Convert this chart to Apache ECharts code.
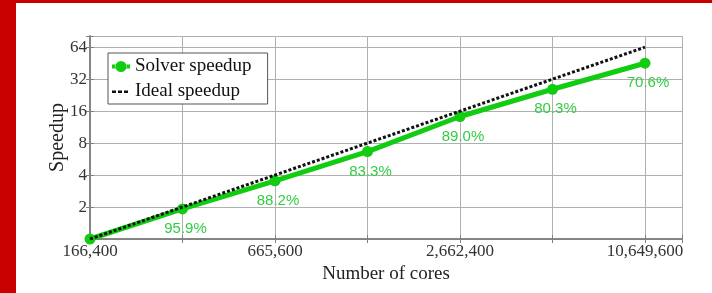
<!DOCTYPE html>
<html>
<head>
<meta charset="utf-8">
<script src="https://cdn.jsdelivr.net/npm/echarts@6/dist/echarts.min.js"></script>
<style>
html,body{margin:0;padding:0;background:#fff;}
#chart{position:absolute;left:0;top:0;width:712px;height:293px;}
#redTop{position:absolute;left:0;top:0;width:712px;height:3px;background:#c80000;z-index:5;}
#redLeft{position:absolute;left:0;top:0;width:16px;height:293px;background:#c80000;z-index:5;}
</style>
</head>
<body>
<div id="chart"></div>
<div id="redTop"></div>
<div id="redLeft"></div>
<script>
// ---- data ----
var cores = [166400, 332800, 665600, 1331200, 2662400, 5324800, 10649600];
var solverSpeedup = [1, 1.92, 3.53, 6.66, 14.24, 25.7, 45.2];
var idealSpeedup = [1, 2, 4, 8, 16, 32, 64];
var efficiencyLabels = ['', '95.9%', '88.2%', '83.3%', '89.0%', '80.3%', '70.6%'];
var xTickLabels = ['166,400', '', '665,600', '', '2,662,400', '', '10,649,600'];
var yTickLabels = ['', '2', '4', '8', '16', '32', '64'];
var seriesNames = ['Solver speedup', 'Ideal speedup'];
var xAxisTitle = 'Number of cores';
var yAxisTitle = 'Speedup';

// ---- build ----
function lx(c){ return Math.log2(c / cores[0]); }
function ly(s){ return Math.log2(s); }
function isInt(v){ return Math.abs(v - Math.round(v)) < 1e-6; }

var solverData = cores.map(function(c, i){ return [lx(c), ly(solverSpeedup[i])]; });
var idealData = cores.map(function(c, i){ return [lx(c), ly(idealSpeedup[i])]; });

var serif = '"Liberation Serif", "DejaVu Serif", serif';
var gridColor = '#b0b0b0';
var axisColor = '#808080';
var green = '#11cc11';

function xAxisCfg(pos, showLabel){
  return {
    type: 'value', position: pos, min: 0, max: 6.4, interval: 1,
    axisLine: {show: true, lineStyle: {color: axisColor, width: 1.5}},
    axisTick: {show: true, inside: true, length: 4, lineStyle: {color: axisColor}},
    splitLine: {show: pos === 'bottom', lineStyle: {color: gridColor, width: 1}},
    axisLabel: {
      show: showLabel, margin: 4, color: '#333', fontFamily: serif, fontSize: 17,
      formatter: function(v){ return isInt(v) ? (xTickLabels[Math.round(v)] || '') : ''; }
    },
    name: showLabel ? xAxisTitle : '', nameLocation: 'middle', nameGap: 20,
    nameTextStyle: {color: '#222', fontFamily: serif, fontSize: 19}
  };
}
function yAxisCfg(pos, showLabel){
  return {
    type: 'value', position: pos, min: 0, max: 6.35, interval: 1,
    axisLine: {show: true, lineStyle: {color: axisColor, width: 1.5}},
    axisTick: {show: true, inside: true, length: 4, lineStyle: {color: axisColor}},
    splitLine: {show: pos === 'left', lineStyle: {color: gridColor, width: 1}},
    axisLabel: {
      show: showLabel, margin: 3, color: '#333', fontFamily: serif, fontSize: 17,
      formatter: function(v){ return isInt(v) ? (yTickLabels[Math.round(v)] || '') : ''; }
    }
  };
}

var solverIcon = 'path://M0,3.5h4v4h-4z M14,3.5h4v4h-4z M3.5,5.5a5.5,5.5 0 1,0 11,0a5.5,5.5 0 1,0 -11,0z';
var idealIcon = 'path://M0,4.5h4v2.5h-4z M6,4.5h4v2.5h-4z M12,4.5h4v2.5h-4z M17.9,0h0.1v0.1h-0.1z M17.9,10.9h0.1v0.1h-0.1z';

var chart = echarts.init(document.getElementById('chart'), null, {renderer: 'canvas'});
chart.setOption({
  animation: false,
  backgroundColor: '#fff',
  grid: {left: 90, top: 36, right: 30, bottom: 54, show: false},
  xAxis: [xAxisCfg('bottom', true), xAxisCfg('top', false)],
  yAxis: [yAxisCfg('left', true), yAxisCfg('right', false)],
  graphic: [{
    type: 'text', x: 58, y: 137.5, rotation: Math.PI / 2,
    style: {
      text: yAxisTitle, fill: '#222', font: '20px "Liberation Serif", serif',
      align: 'center', verticalAlign: 'middle'
    }
  }],
  legend: {
    orient: 'vertical', left: 108, top: 53,
    padding: [4, 16, 3, 4], itemGap: 6, itemWidth: 18, itemHeight: 11,
    backgroundColor: '#fff', borderColor: '#555', borderWidth: 1,
    textStyle: {fontFamily: serif, fontSize: 19, color: '#111', lineHeight: 19},
    data: [
      {name: seriesNames[0], icon: solverIcon, itemStyle: {color: green}},
      {name: seriesNames[1], icon: idealIcon, itemStyle: {color: '#111'}}
    ]
  },
  series: [
    {
      name: seriesNames[0], type: 'line', data: solverData,
      symbol: 'circle', symbolSize: 11,
      lineStyle: {color: green, width: 5},
      itemStyle: {color: green},
      label: {
        show: true, position: 'bottom', distance: 7, offset: [3, 0],
        color: '#33cc44', fontFamily: '"Liberation Sans", Arial, sans-serif', fontSize: 15,
        formatter: function(p){ return efficiencyLabels[p.dataIndex]; }
      },
      z: 2
    },
    {
      name: seriesNames[1], type: 'line', data: idealData,
      symbol: 'none',
      lineStyle: {color: '#111', width: 3, type: [3, 2]},
      itemStyle: {color: '#111'},
      z: 3
    }
  ]
});
</script>
</body>
</html>
